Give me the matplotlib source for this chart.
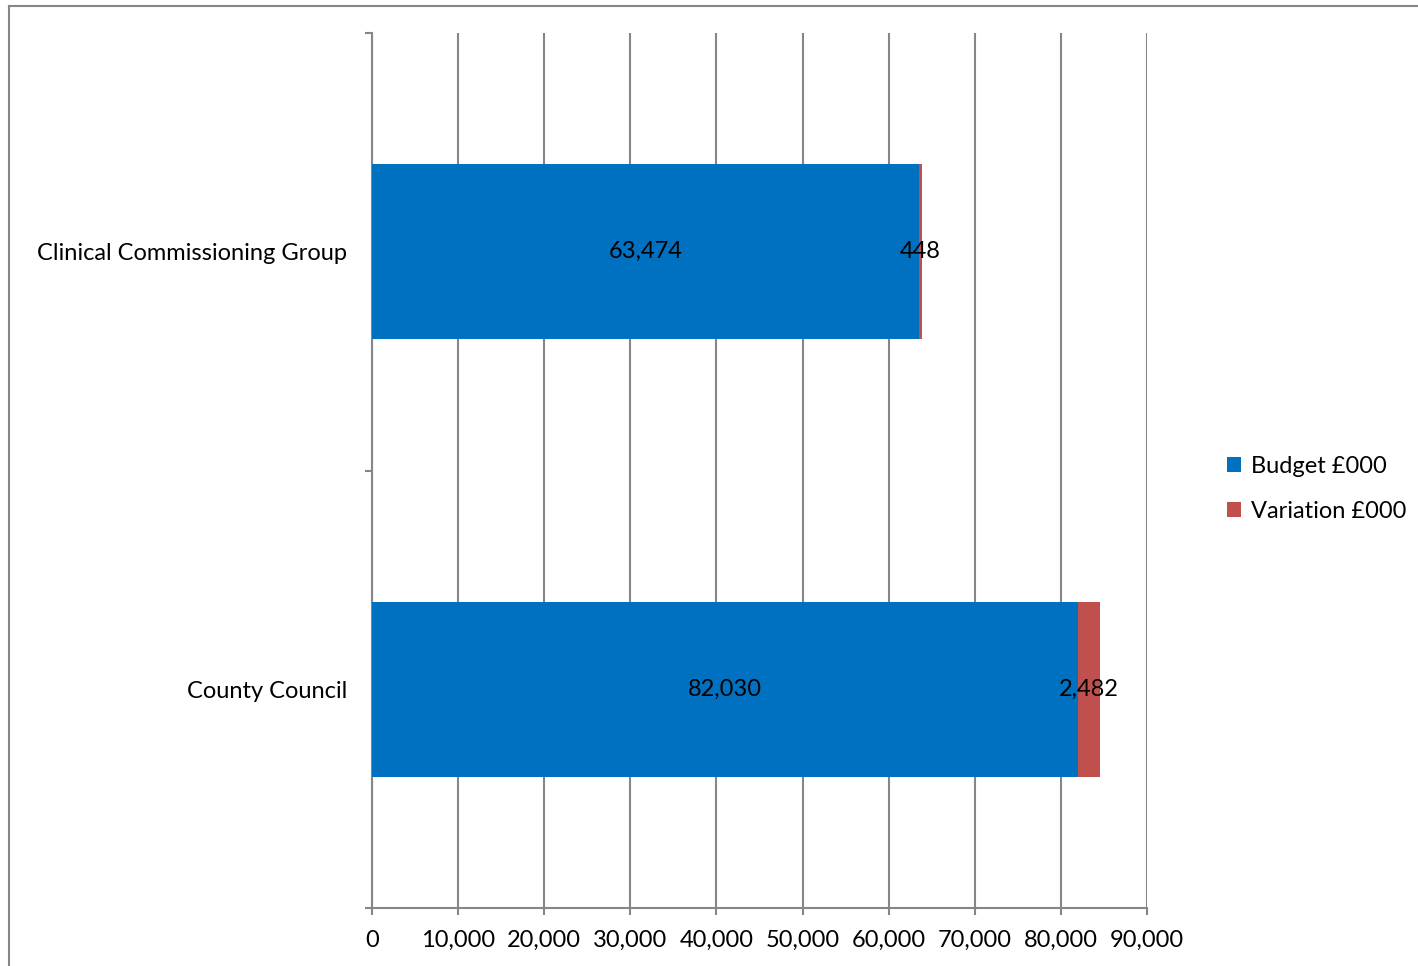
import matplotlib
matplotlib.use("Agg")
import matplotlib.pyplot as plt
from matplotlib.lines import Line2D
import numpy as np

# --- data ---
categories = ["County Council", "Clinical Commissioning Group"]
budget = [82030, 63474]
variation = [2482, 448]
series_names = ["Budget £000", "Variation £000"]
x_ticks = [0, 10000, 20000, 30000, 40000, 50000, 60000, 70000, 80000, 90000]

blue = "#0070C0"
red = "#C0504D"
grey = "#868686"
fs = 17

plt.rcParams['font.family'] = ['Lato', 'DejaVu Sans']

fig = plt.figure(figsize=(14.18, 9.66), dpi=100)
ax = fig.add_axes([372/1418, 1 - 908/966, 775/1418, 875/966])

y = np.arange(len(categories))
b1 = ax.barh(y, budget, height=0.4, color=blue, label=series_names[0], zorder=3)
b2 = ax.barh(y, variation, left=budget, height=0.4, color=red, label=series_names[1], zorder=3)

# data labels in the middle of each segment
for i in range(len(categories)):
    ax.text(budget[i] / 2, y[i], f"{budget[i]:,}", ha="center", va="center",
            fontsize=fs, color="black", zorder=4)
    ax.text(budget[i] + variation[i] / 2, y[i], f"{variation[i]:,}", ha="center",
            va="center", fontsize=fs, color="black", zorder=4)

ax.set_xlim(0, 90000)
ax.set_ylim(-0.5, 1.5)
ax.set_xticks(x_ticks)
ax.set_xticklabels([f"{v:,}" for v in x_ticks], fontsize=fs)
ax.set_yticks(y)
ax.set_yticklabels(categories, fontsize=fs)
ax.set_yticks([-0.5, 0.5, 1.5], minor=True)

ax.tick_params(axis="y", which="major", length=0, pad=18)
ax.tick_params(axis="y", which="minor", length=5, width=1.5, color=grey, direction="out")
ax.tick_params(axis="x", length=5, width=1.5, color=grey, direction="out", pad=11)

ax.grid(axis="x", color=grey, linewidth=1.5, zorder=0)
for s in ["top", "right"]:
    ax.spines[s].set_visible(False)
for s in ["left", "bottom"]:
    ax.spines[s].set_color(grey)
    ax.spines[s].set_linewidth(1.5)

leg = fig.legend(handles=[b1, b2], labels=series_names, loc="center left",
                 bbox_to_anchor=(1206/1418, 1 - 489/966), frameon=False,
                 fontsize=fs, handlelength=0.6, handleheight=0.6,
                 handletextpad=0.4, labelspacing=1.0)

# outer chart border (cut off at right and bottom)
fig.add_artist(Line2D([9/1418, 9/1418], [0, 1 - 6/966], color=grey, linewidth=1.5))
fig.add_artist(Line2D([9/1418, 1], [1 - 6/966, 1 - 6/966], color=grey, linewidth=1.5))

fig.savefig("out.png", dpi=100)
